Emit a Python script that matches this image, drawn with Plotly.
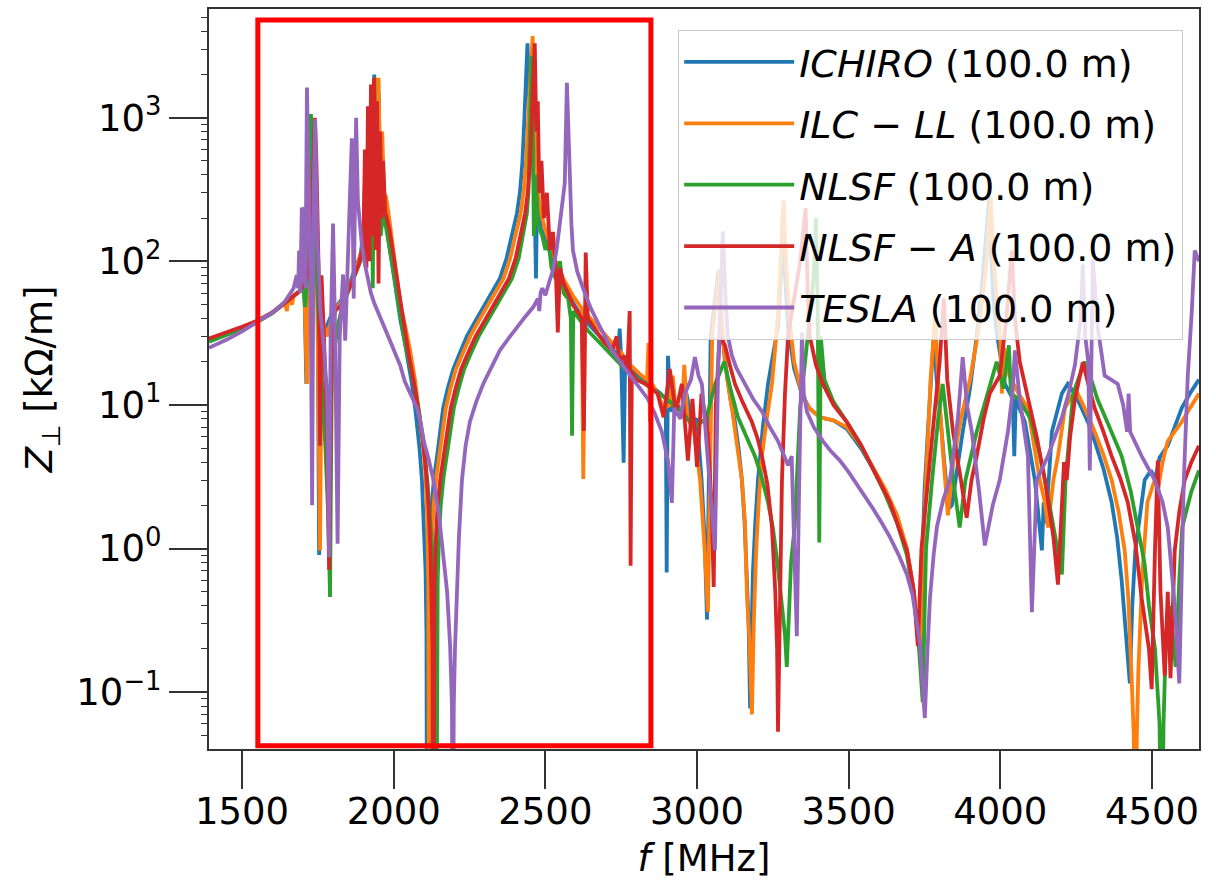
import plotly.graph_objects as go

# ---- data (frequency MHz, |Z_perp| kOhm/m) ----
ichiro_pts = [
    (1391, 28), (1450, 31), (1500, 34), (1550, 38), (1600, 44), (1640, 51), (1670, 57), (1690, 62),
    (1705, 70), (1712, 14), (1716, 70), (1722, 200), (1728, 1000), (1734, 350), (1742, 130), (1749, 60),
    (1754, 0.9), (1758, 35), (1770, 32), (1785, 38), (1800, 45), (1830, 55), (1860, 75), (1890, 110),
    (1905, 180), (1915, 400), (1922, 150), (1930, 900), (1936, 2000), (1942, 250), (1950, 1500), (1957, 300),
    (1965, 250), (1975, 190), (1983, 140), (1990, 110), (2000, 80), (2010, 55), (2022, 39), (2037, 27),
    (2048, 20), (2060, 14), (2072, 9), (2085, 5), (2093, 3), (2100, 1.5), (2105, 0.7), (2108, 0.25),
    (2110, 0.003), (2112, 0.15), (2115, 0.6), (2119, 1.2), (2125, 2), (2133, 3.1), (2143, 4.4), (2153, 6.5),
    (2163, 9.5), (2178, 13), (2196, 17.7), (2218, 23), (2241, 30), (2268, 38), (2295, 48), (2322, 60),
    (2350, 76), (2372, 105), (2394, 162), (2406, 215), (2416, 300), (2424, 480), (2430, 900), (2437, 2000),
    (2441, 3300), (2446, 1500), (2455, 600), (2464, 300), (2469, 76), (2473, 300), (2485, 170), (2500, 140),
    (2515, 120), (2540, 85), (2570, 62), (2600, 48), (2625, 40), (2650, 35), (2680, 30), (2710, 26),
    (2740, 22), (2745, 34), (2750, 21), (2758, 3.96), (2763, 20), (2790, 17), (2820, 15), (2850, 13.5),
    (2880, 12), (2897, 11), (2900, 0.68), (2904, 22), (2915, 9), (2935, 10), (2950, 8.9), (2965, 12),
    (2985, 7.6), (3000, 8), (3015, 3), (3025, 1.2), (3033, 0.32), (3045, 30), (3062, 60), (3070, 85),
    (3080, 40), (3092, 20), (3110, 11), (3125, 7.6), (3137, 5), (3148, 3), (3157, 1.5), (3164, 0.66),
    (3170, 0.3), (3175, 0.077), (3180, 0.3), (3184, 0.66), (3192, 1.5), (3201, 3), (3217, 7), (3234, 14),
    (3250, 22), (3267, 35), (3278, 90), (3283, 220), (3290, 80), (3300, 35), (3320, 18), (3345, 12),
    (3370, 9.5), (3405, 8.2), (3450, 7.8), (3494, 6.8), (3540, 5), (3580, 3.6), (3620, 2.5), (3660, 1.6),
    (3692, 0.97), (3712, 0.55), (3725, 0.3), (3733, 0.21), (3740, 0.6), (3750, 2.5), (3761, 6.5), (3772, 15),
    (3781, 32), (3790, 15), (3800, 9.5), (3815, 4), (3830, 1.9), (3840, 2), (3855, 3.3), (3876, 6.5),
    (3900, 13), (3922, 30), (3940, 70), (3952, 139), (3963, 270), (3970, 110), (3978, 50), (3990, 30),
    (4015, 14), (4041, 11), (4046, 4.4), (4051, 11), (4081, 7.6), (4114, 3), (4130, 1.5), (4137, 0.97),
    (4143, 2.1), (4150, 1.5), (4170, 6.5), (4203, 12), (4222, 14), (4245, 12), (4268, 9.5), (4290, 7.5),
    (4311, 5.6), (4340, 3.6), (4367, 2.1), (4385, 1.2), (4400, 0.6), (4415, 0.25), (4427, 0.115), (4435, 0.4),
    (4445, 0.97), (4476, 3), (4497, 3.5), (4510, 3), (4525, 4.3), (4552, 5.2), (4575, 7), (4598, 9.5),
    (4625, 12), (4655, 15),
]

ilcll_pts = [
    (1391, 28.5), (1450, 31.5), (1500, 34.5), (1550, 38.5), (1600, 44), (1640, 52), (1648, 45), (1652, 55),
    (1665, 50), (1670, 58), (1690, 62), (1705, 68), (1714, 14), (1718, 70), (1724, 250), (1730, 900),
    (1738, 250), (1748, 60), (1757, 0.97), (1763, 40), (1780, 30), (1795, 40), (1815, 48), (1840, 58),
    (1870, 80), (1900, 130), (1915, 200), (1925, 500), (1932, 1000), (1938, 1900), (1944, 400), (1950, 1900),
    (1956, 300), (1962, 800), (1968, 300), (1975, 280), (1985, 200), (1994, 139), (2002, 100), (2010, 72),
    (2022, 50), (2037, 36), (2054, 24), (2070, 15), (2087, 8.2), (2098, 5), (2105, 3.2), (2110, 1.8),
    (2114, 0.6), (2117, 0.003), (2119, 0.15), (2122, 0.6), (2126, 1.2), (2132, 2), (2140, 3.1), (2150, 4.4),
    (2160, 6.5), (2172, 9.5), (2187, 13), (2205, 17.7), (2228, 23), (2252, 30), (2279, 38), (2306, 48),
    (2334, 60), (2362, 76), (2384, 105), (2405, 162), (2418, 215), (2428, 300), (2436, 480), (2443, 940),
    (2452, 2200), (2458, 3700), (2462, 1000), (2470, 500), (2480, 250), (2495, 180), (2510, 140), (2530, 105),
    (2560, 75), (2590, 58), (2620, 47), (2625, 3.05), (2631, 44), (2660, 38), (2690, 32), (2720, 27),
    (2750, 23), (2780, 19), (2810, 16.5), (2835, 15), (2840, 27), (2845, 7.6), (2852, 14), (2870, 12),
    (2890, 9.5), (2910, 10), (2920, 16), (2930, 9), (2950, 8.2), (2958, 19), (2968, 8.2), (2990, 6.5),
    (3010, 3), (3025, 1), (3036, 0.36), (3050, 30), (3068, 60), (3075, 88), (3085, 30), (3100, 15),
    (3115, 9.5), (3132, 5.5), (3148, 3), (3158, 1.5), (3165, 0.45), (3172, 0.25), (3181, 0.07), (3187, 0.3),
    (3195, 0.97), (3204, 2.2), (3214, 4.4), (3230, 8), (3247, 14), (3257, 24), (3267, 44), (3278, 120),
    (3285, 265), (3293, 100), (3305, 40), (3320, 20), (3345, 12), (3370, 9.5), (3405, 8.2), (3450, 7.8),
    (3494, 7), (3540, 5.2), (3580, 3.7), (3620, 2.6), (3660, 1.7), (3692, 1.0), (3715, 0.5), (3730, 0.22),
    (3737, 0.18), (3745, 1), (3755, 3), (3770, 15), (3785, 41), (3795, 15), (3810, 5), (3827, 1.7),
    (3845, 4), (3870, 8), (3900, 15), (3930, 35), (3955, 100), (3968, 280), (3978, 100), (3990, 45),
    (4000, 28), (4005, 12), (4012, 25), (4030, 16), (4060, 12), (4091, 9.5), (4110, 5.5), (4130, 3),
    (4147, 2.1), (4157, 1.4), (4175, 3), (4190, 4.4), (4213, 9.5), (4235, 11.5), (4255, 12), (4283, 9),
    (4311, 6.5), (4340, 4.5), (4367, 3), (4390, 1.8), (4410, 0.97), (4422, 0.45), (4432, 0.14), (4440, 0.05),
    (4445, 0.003), (4450, 0.05), (4455, 0.14), (4468, 0.66), (4485, 2.1), (4509, 3), (4520, 2.6), (4535, 4),
    (4552, 5.6), (4575, 6.6), (4598, 7.6), (4625, 9.5), (4655, 12),
]

nlsf_pts = [
    (1391, 27.5), (1450, 30.5), (1500, 33.8), (1550, 37.8), (1600, 43.5), (1640, 51), (1670, 57), (1690, 62),
    (1702, 66), (1708, 48), (1713, 68), (1720, 300), (1727, 1060), (1733, 400), (1742, 120), (1752, 40),
    (1762, 15), (1775, 5), (1785, 1.5), (1790, 0.46), (1795, 10), (1800, 50), (1806, 25), (1815, 35),
    (1830, 48), (1850, 62), (1870, 80), (1890, 100), (1900, 140), (1906, 400), (1910, 150), (1916, 900),
    (1921, 130), (1927, 1200), (1931, 65), (1936, 1900), (1942, 200), (1950, 400), (1957, 150), (1965, 220),
    (1975, 170), (1985, 130), (1995, 100), (2005, 72), (2015, 52), (2026, 37), (2037, 27), (2053, 19),
    (2070, 13), (2085, 8.5), (2100, 5), (2112, 2.8), (2122, 1.5), (2128, 0.9), (2133, 0.4), (2137, 0.15),
    (2140, 0.003), (2142, 0.15), (2145, 0.6), (2149, 1.2), (2155, 2), (2164, 3.1), (2175, 4.4), (2186, 6.5),
    (2198, 9.5), (2214, 13), (2232, 17.7), (2255, 23), (2280, 30), (2308, 38), (2335, 48), (2362, 60),
    (2390, 76), (2412, 105), (2430, 162), (2439, 215), (2444, 300), (2450, 900), (2455, 2700), (2459, 800),
    (2462, 150), (2468, 400), (2476, 180), (2490, 150), (2500, 120), (2510, 140), (2520, 90), (2535, 75),
    (2548, 100), (2560, 60), (2575, 55), (2584, 40), (2588, 6.1), (2592, 45), (2610, 40), (2640, 33),
    (2680, 27), (2720, 22), (2760, 18), (2800, 15.5), (2850, 13), (2900, 11), (2950, 9), (2990, 7),
    (3030, 8), (3060, 14), (3090, 20), (3110, 13), (3135, 8.2), (3160, 6.2), (3191, 4.4), (3212, 3.2),
    (3234, 2.1), (3250, 1.4), (3265, 0.8), (3280, 0.4), (3290, 0.25), (3296, 0.15), (3303, 0.4), (3310, 0.8),
    (3322, 1.42), (3340, 9.5), (3365, 30), (3385, 80), (3392, 200), (3398, 44), (3403, 1.1), (3408, 30),
    (3420, 15), (3450, 10.5), (3494, 7.6), (3540, 5.2), (3580, 3.6), (3620, 2.4), (3660, 1.5), (3692, 0.9),
    (3715, 0.45), (3732, 0.2), (3744, 0.085), (3755, 1), (3775, 3), (3795, 8), (3810, 14), (3825, 7),
    (3845, 3), (3866, 1.4), (3885, 3), (3922, 6.5), (3965, 14), (3988, 20), (4010, 13), (4028, 26),
    (4035, 12), (4060, 11), (4100, 8), (4125, 5), (4147, 3), (4165, 1.9), (4180, 1.2), (4192, 0.9),
    (4203, 0.66), (4215, 3), (4240, 12), (4278, 20), (4300, 15), (4320, 11), (4360, 7), (4400, 4.4),
    (4430, 2.5), (4453, 1.42), (4475, 0.8), (4490, 0.4), (4510, 0.2), (4525, 0.06), (4532, 0.003),
    (4538, 0.06), (4545, 0.2), (4560, 0.4), (4578, 0.15), (4590, 0.6), (4600, 1.42), (4630, 2.5), (4655, 3.5),
]

nlsfa_pts = [
    (1391, 29), (1450, 32), (1500, 35), (1550, 38.5), (1600, 44), (1640, 51), (1670, 57), (1690, 62),
    (1705, 70), (1720, 85), (1730, 200), (1737, 500), (1740, 1000), (1745, 510), (1750, 150), (1754, 60),
    (1757, 5.2), (1762, 80), (1770, 30), (1780, 6), (1787, 0.71), (1795, 20), (1805, 45), (1830, 50),
    (1860, 70), (1885, 95), (1900, 130), (1905, 600), (1910, 90), (1915, 1200), (1920, 100), (1925, 1700),
    (1930, 150), (1935, 1900), (1940, 120), (1945, 1300), (1950, 70), (1955, 800), (1960, 200), (1965, 500),
    (1972, 220), (1985, 170), (1995, 125), (2005, 90), (2015, 63), (2026, 45), (2037, 32), (2050, 22),
    (2065, 15), (2080, 9.5), (2095, 6), (2105, 3.8), (2115, 2), (2121, 1), (2125, 0.5), (2128, 0.2),
    (2130, 0.003), (2132, 0.15), (2135, 0.6), (2139, 1.2), (2145, 2), (2154, 3.1), (2165, 4.4), (2176, 6.5),
    (2188, 9.5), (2204, 13), (2222, 17.7), (2245, 23), (2270, 30), (2298, 38), (2325, 48), (2352, 60),
    (2380, 76), (2402, 105), (2422, 162), (2433, 215), (2442, 300), (2449, 480), (2455, 940), (2461, 2000),
    (2465, 3300), (2470, 800), (2475, 1300), (2480, 300), (2487, 500), (2495, 200), (2505, 300), (2515, 120),
    (2525, 160), (2535, 80), (2541, 32), (2548, 90), (2560, 70), (2575, 60), (2590, 50), (2605, 45),
    (2620, 40), (2627, 6.6), (2633, 115), (2640, 40), (2660, 35), (2690, 28), (2720, 24), (2735, 30),
    (2745, 20), (2760, 22), (2770, 17), (2778, 45), (2781, 0.76), (2785, 17), (2800, 15), (2830, 14),
    (2850, 13), (2870, 12), (2890, 8.2), (2910, 17.8), (2930, 8.9), (2950, 14), (2970, 4.1), (2985, 11),
    (3000, 3.7), (3015, 12), (3035, 6.5), (3048, 2), (3055, 0.54), (3062, 10), (3075, 30), (3092, 26),
    (3108, 19), (3125, 14), (3150, 10.5), (3181, 7.6), (3200, 5.8), (3214, 4.4), (3232, 2.8), (3247, 1.42),
    (3258, 0.5), (3264, 0.2), (3267, 0.053), (3273, 0.5), (3280, 3), (3290, 12), (3300, 30), (3320, 55),
    (3340, 100), (3358, 235), (3365, 60), (3372, 30), (3392, 19), (3415, 14), (3450, 10), (3494, 7.6),
    (3540, 5.3), (3580, 3.6), (3610, 2.7), (3636, 2.1), (3665, 1.4), (3692, 0.97), (3715, 0.5), (3728, 0.21),
    (3740, 1), (3760, 3), (3777, 6.5), (3800, 20), (3814, 55), (3825, 15), (3844, 6.5), (3870, 3),
    (3889, 1.64), (3905, 3), (3922, 4.4), (3945, 8), (3965, 12), (3998, 16), (4020, 40), (4038, 119),
    (4048, 40), (4064, 20), (4091, 11), (4120, 6), (4147, 3), (4175, 1.2), (4190, 0.56), (4200, 1.5),
    (4210, 4), (4219, 3), (4230, 6), (4246, 11), (4272, 19.8), (4290, 14), (4311, 9.5), (4340, 6.5),
    (4367, 4.4), (4395, 3.1), (4420, 2.1), (4445, 1.1), (4466, 0.45), (4490, 0.2), (4499, 0.105), (4510, 1),
    (4519, 4.1), (4528, 0.5), (4542, 0.13), (4552, 0.5), (4561, 0.125), (4575, 0.97), (4590, 1.8),
    (4608, 3), (4630, 4), (4655, 5.2),
]

tesla_pts = [
    (1391, 25), (1450, 28.5), (1500, 32.5), (1550, 37.5), (1600, 44), (1640, 52), (1660, 60), (1670, 65),
    (1680, 80), (1685, 65), (1688, 119), (1692, 60), (1697, 237), (1700, 70), (1705, 240), (1709, 65),
    (1714, 1620), (1720, 200), (1726, 60), (1731, 2), (1736, 300), (1741, 980), (1748, 150), (1758, 45),
    (1770, 25), (1780, 12), (1787, 0.87), (1792, 30), (1800, 183), (1806, 40), (1815, 1.08), (1822, 30),
    (1833, 81), (1840, 28), (1850, 150), (1862, 720), (1868, 55), (1876, 1000), (1882, 260), (1890, 160),
    (1895, 130), (1905, 95), (1915, 75), (1925, 60), (1936, 51), (1948, 44), (1965, 36), (1980, 30),
    (1994, 26), (2008, 22), (2021, 19), (2037, 14.5), (2055, 12), (2077, 9.5), (2090, 7.3), (2100, 5.5),
    (2115, 4.2), (2130, 3.05), (2148, 1.8), (2163, 0.97), (2176, 0.5), (2186, 0.21), (2192, 0.08),
    (2195, 0.003), (2198, 0.08), (2202, 0.2), (2208, 0.45), (2215, 1.2), (2225, 3), (2237, 5.2), (2251, 7.6),
    (2272, 10.5), (2295, 14), (2322, 18.5), (2350, 24), (2378, 29), (2406, 35), (2433, 41), (2460, 48),
    (2475, 55), (2480, 45), (2484, 60), (2490, 65), (2500, 58), (2513, 72), (2526, 88), (2538, 125),
    (2548, 190), (2557, 260), (2564, 350), (2571, 1750), (2580, 350), (2586, 180), (2591, 119), (2605, 85),
    (2624, 65), (2650, 47), (2680, 35), (2700, 29), (2720, 24), (2750, 19.5), (2780, 16), (2810, 13.3),
    (2838, 11), (2860, 8.8), (2884, 6.5), (2905, 4), (2917, 2.08), (2925, 9.5), (2945, 8), (2960, 12),
    (2980, 15), (2993, 21.5), (3005, 16), (3016, 14), (3030, 6), (3043, 3), (3059, 0.97), (3070, 20),
    (3085, 161), (3095, 50), (3102, 30), (3115, 22), (3130, 18), (3158, 14), (3185, 11), (3214, 9),
    (3240, 7), (3267, 5.6), (3300, 3.8), (3312, 4.4), (3322, 1), (3329, 0.245), (3337, 3), (3346, 32),
    (3352, 12), (3362, 9), (3385, 7), (3415, 5.6), (3440, 4.8), (3471, 4.1), (3500, 3.4), (3527, 2.8),
    (3555, 2.3), (3580, 1.9), (3610, 1.5), (3636, 1.2), (3665, 0.9), (3692, 0.66), (3710, 0.48), (3725, 0.31),
    (3735, 0.22), (3742, 0.13), (3751, 0.066), (3760, 0.2), (3768, 0.45), (3780, 0.9), (3791, 1.42),
    (3812, 2.2), (3834, 3), (3860, 8), (3876, 21.5), (3890, 10), (3906, 6.5), (3930, 2.5), (3949, 1.05),
    (3975, 2), (3998, 3), (4025, 6.5), (4040, 12), (4048, 24), (4064, 11), (4091, 4.4), (4104, 0.36),
    (4120, 3), (4157, 4.4), (4180, 6), (4203, 8.2), (4225, 12), (4246, 19), (4265, 40), (4272, 95),
    (4280, 30), (4290, 20), (4295, 3.5), (4300, 30), (4305, 103), (4321, 35), (4344, 16), (4365, 15),
    (4387, 14), (4405, 10), (4418, 6.5), (4423, 12), (4428, 6.5), (4466, 4.4), (4509, 3), (4535, 2.1),
    (4552, 1.4), (4575, 0.4), (4590, 0.115), (4605, 3), (4618, 16), (4631, 44), (4641, 119), (4655, 100),
]

series_names = [
    "<i>ICHIRO</i> (100.0 m)",
    "<i>ILC</i> \u2212 <i>LL</i> (100.0 m)",
    "<i>NLSF</i> (100.0 m)",
    "<i>NLSF</i> \u2212 <i>A</i> (100.0 m)",
    "<i>TESLA</i> (100.0 m)",
]
series_pts = [ichiro_pts, ilcll_pts, nlsf_pts, nlsfa_pts, tesla_pts]
colors = ["#1f77b4", "#ff7f0e", "#2ca02c", "#d62728", "#9467bd"]

x_ticks = [1500, 2000, 2500, 3000, 3500, 4000, 4500]
y_ticks = [0.1, 1, 10, 100, 1000]
y_ticktext = ["10<sup>\u22121</sup>", "10<sup>0</sup>", "10<sup>1</sup>", "10<sup>2</sup>", "10<sup>3</sup>"]
y_minor = [m * 10.0 ** e for e in range(-2, 4) for m in range(2, 10)]

x_range = [1391, 4655]
y_range_log = [-1.396, 3.757]
box_x = [1552, 2848]

FONT = "DejaVu Sans"

fig = go.Figure()
for name, pts, col in zip(series_names, series_pts, colors):
    fig.add_trace(go.Scatter(
        x=[p[0] for p in pts], y=[p[1] for p in pts], mode="lines", name=name,
        legendgroup=name, line=dict(color=col, width=3.8),
    ))

fig.add_shape(type="rect", xref="x", yref="paper", x0=box_x[0], x1=box_x[1], y0=0.0045, y1=0.985,
              line=dict(color="#ff0000", width=5), fillcolor="rgba(0,0,0,0)", layer="above")

axis_common = dict(showline=True, linecolor="#333333", linewidth=2, mirror=True, showgrid=False,
                   zeroline=False, ticks="outside", ticklen=38, tickwidth=1.5, tickcolor="#333333",
                   tickfont=dict(family=FONT, size=37, color="#000000"))

fig.update_layout(
    width=1216, height=880,
    margin=dict(l=209, r=17, t=7, b=131),
    paper_bgcolor="white", plot_bgcolor="white",
    font=dict(family=FONT, size=37, color="#000000"),
    showlegend=True,
    legend=dict(x=0.984, y=0.972, xanchor="right", yanchor="top", bgcolor="rgba(255,255,255,0.8)",
                bordercolor="#cccccc", borderwidth=1, font=dict(family=FONT, size=38, color="#000000"),
                tracegroupgap=9, itemwidth=110),
    xaxis=dict(range=x_range, tickmode="array", tickvals=x_ticks, ticklabelstandoff=-9,
               title=dict(text="<i>f</i> [MHz]", font=dict(family=FONT, size=37), standoff=14),
               **axis_common),
    yaxis=dict(type="log", range=y_range_log, tickmode="array", tickvals=y_ticks, ticktext=y_ticktext,
               title=dict(text="<i>Z</i><sub>\u22a5</sub> [k\u03a9/m]", font=dict(family=FONT, size=37), standoff=12),
               minor=dict(tickmode="array", tickvals=y_minor, ticks="outside", ticklen=6, tickwidth=1.2,
                          tickcolor="#333333"),
               **axis_common),
)

fig.write_html("out.html")
